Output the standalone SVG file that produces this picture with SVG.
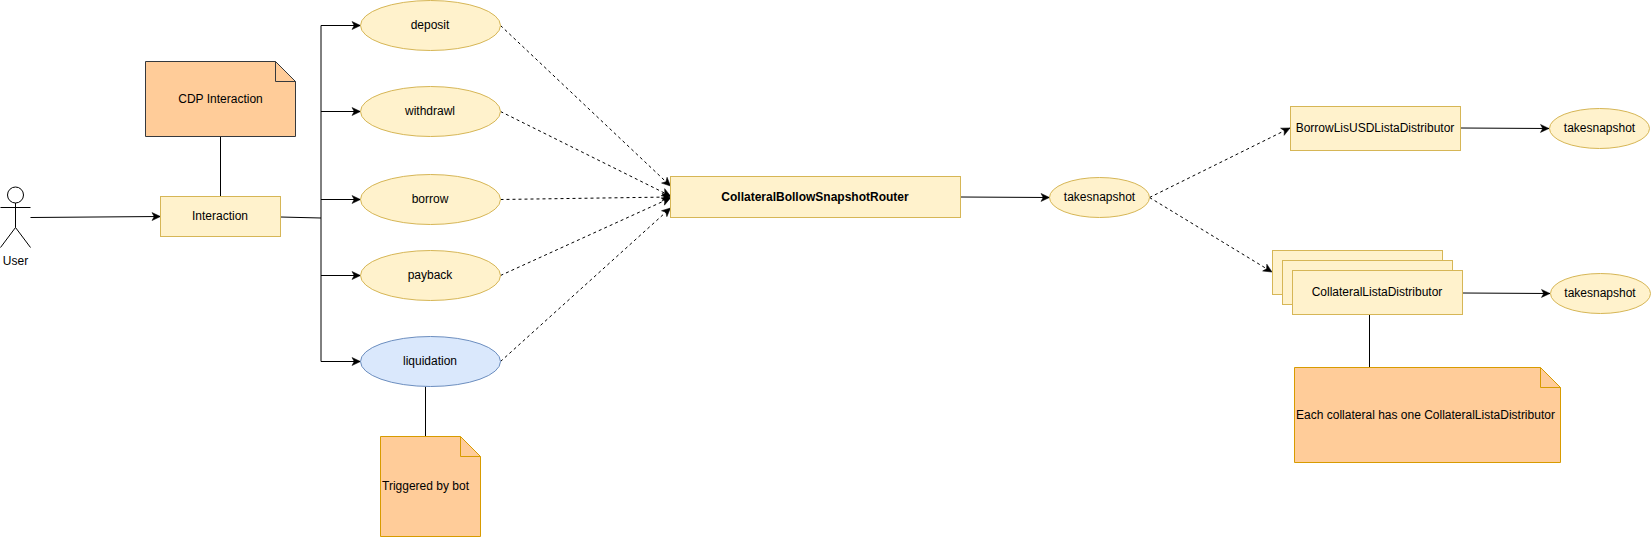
<svg xmlns="http://www.w3.org/2000/svg" width="1651" height="537" viewBox="0 0 1651 537">
<defs>
<marker id="arrow" markerUnits="userSpaceOnUse" markerWidth="10" markerHeight="10" refX="8.5" refY="4" orient="auto" overflow="visible"><path d="M0 0 L8.5 4 L0 8 L2.2 4 Z" fill="#000" stroke="#000" stroke-width="0.5"/></marker>
</defs>
<style>
text{font-family:"Liberation Sans",Arial,Helvetica,sans-serif;font-size:12px;fill:#000;text-anchor:middle;dominant-baseline:central}
.y{fill:#fff2cc;stroke:#d6b656;stroke-width:1}
.b{fill:#dae8fc;stroke:#6c8ebf;stroke-width:1}
.n{fill:#ffcc99;stroke:#d79b00;stroke-width:1;stroke-linejoin:miter}
.g{fill:#ffcc99;stroke:#36393d;stroke-width:1}
.f{fill:none}
.e{fill:none;stroke:#000;stroke-width:1}
.a{marker-end:url(#arrow)}
.d{stroke-dasharray:3 3}
</style>
<g id="connectors">
<path class="e a" d="M30.5 217.5 L160.5 216.500"/>
<path class="e" d="M220.5 136.5 L220.5 196.5"/>
<path class="e" d="M280.5 217 L321 218"/>
<path class="e" d="M321 361.5 L321 25.5"/>
<path class="e a" d="M321 25.5 L360.5 25.5"/>
<path class="e a" d="M321 111.5 L360.5 111.5"/>
<path class="e a" d="M321 199.5 L360.5 199.5"/>
<path class="e a" d="M321 275.5 L360.5 275.5"/>
<path class="e a" d="M321 361.5 L360.5 361.5"/>
<path class="e" d="M425.5 386.5 L425.5 436.5"/>
<path class="e d a" d="M500.5 25.5 L670.5 186"/>
<path class="e d a" d="M500.5 111.5 L670.5 196"/>
<path class="e d a" d="M500.5 199.5 L670.5 197"/>
<path class="e d a" d="M500.5 275.5 L670.5 198"/>
<path class="e d a" d="M500.5 361.5 L670.5 208"/>
<path class="e a" d="M960.5 197 L1049.5 197.5"/>
<path class="e d a" d="M1149.5 197.5 L1290 128"/>
<path class="e d a" d="M1149.5 197.5 L1272 272"/>
<path class="e a" d="M1460.5 128 L1549 128.5"/>
<path class="e a" d="M1462.5 293 L1550 293.5"/>
<path class="e" d="M1369.5 314.5 L1369.5 367.5"/>
</g>
<g id="user"><circle cx="15.5" cy="195" r="8" fill="none" stroke="#000"/><path class="e" d="M15.5 203V227.5M0.5 207.5H30.5M0.5 247.5L15.5 227.5L30.5 247.5"/><text x="15.5" y="260.5">User</text></g>
<g id="interaction"><rect class="y" x="160.5" y="196.5" width="120" height="40"/><text x="220" y="216">Interaction</text></g>
<g id="note-cdp"><path class="g" d="M145.5 61.5H275.5L295.5 81.5V136.5H145.5Z"/><path class="g f" d="M275.5 61.5V81.5H295.5"/><text x="220.500" y="98.500">CDP Interaction</text></g>
<g id="deposit"><ellipse class="y" cx="430.500" cy="25.5" rx="70" ry="25"/><text x="430" y="25">deposit</text></g>
<g id="withdrawl"><ellipse class="y" cx="430.500" cy="111.5" rx="70" ry="25"/><text x="430" y="111">withdrawl</text></g>
<g id="borrow"><ellipse class="y" cx="430.500" cy="199.5" rx="70" ry="25"/><text x="430" y="199">borrow</text></g>
<g id="payback"><ellipse class="y" cx="430.500" cy="275.5" rx="70" ry="25"/><text x="430" y="275">payback</text></g>
<g id="liquidation"><ellipse class="b" cx="430.500" cy="361.5" rx="70" ry="25"/><text x="430" y="361">liquidation</text></g>
<g id="note-bot"><path class="n" d="M380.500 436.500H460.500L480.500 456.500V536.500H380.500Z"/><path class="n f" d="M460.500 436.500V456.500H480.500"/><text x="425.500" y="486">Triggered by bot</text></g>
<g id="router"><rect class="y" x="670.500" y="176.500" width="290" height="41"/><text x="815" y="197" font-weight="700">CollateralBollowSnapshotRouter</text></g>
<g id="takesnapshot-main"><ellipse class="y" cx="1099.500" cy="197.500" rx="50" ry="20"/><text x="1099.500" y="197">takesnapshot</text></g>
<g id="borrow-distributor"><rect class="y" x="1290.500" y="106.500" width="170" height="44"/><text x="1375" y="128">BorrowLisUSDListaDistributor</text></g>
<g id="takesnapshot-borrow"><ellipse class="y" cx="1599.500" cy="128.500" rx="50" ry="20"/><text x="1599.500" y="128">takesnapshot</text></g>
<g id="collateral-distributor"><rect class="y" x="1272.500" y="250.500" width="170" height="44"/><rect class="y" x="1282.500" y="260.500" width="170" height="44"/><rect class="y" x="1292.500" y="270.500" width="170" height="44"/><text x="1377" y="292">CollateralListaDistributor</text></g>
<g id="takesnapshot-collateral"><ellipse class="y" cx="1600.500" cy="293.500" rx="50" ry="20"/><text x="1600" y="293">takesnapshot</text></g>
<g id="note-collateral"><path class="n" d="M1294.500 367.500H1540.500L1560.500 387.500V462.500H1294.500Z"/><path class="n f" d="M1540.500 367.500V387.500H1560.500"/><text x="1425.500" y="414.500">Each collateral has one CollateralListaDistributor</text></g>
</svg>
